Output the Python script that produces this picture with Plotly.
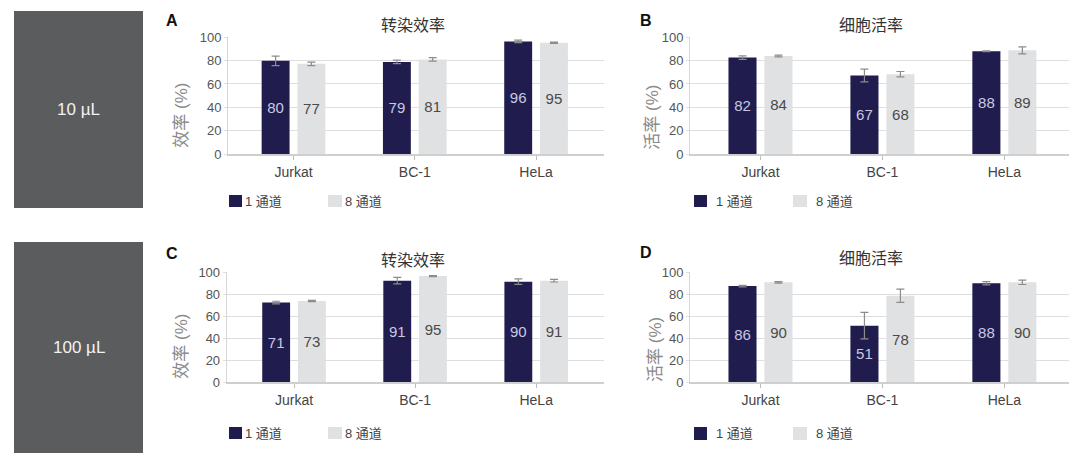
import plotly.graph_objects as go

W, H = 1080, 457

cells = ["Jurkat", "BC-1", "HeLa"]
series_names = ["1 通道", "8 通道"]

# Panel A: 转染效率 (10 µL)
a_1ch = [79.8, 78.9, 96.5]
a_8ch = [77.3, 81.0, 95.3]
a_1ch_err = [4.0, 1.5, 1.0]
a_8ch_err = [1.5, 1.5, 0.5]
a_1ch_lbl = [80, 79, 96]
a_8ch_lbl = [77, 81, 95]

# Panel B: 细胞活率 (10 µL)
b_1ch = [82.6, 67.3, 88.0]
b_8ch = [84.0, 68.4, 88.8]
b_1ch_err = [1.5, 5.5, 0.4]
b_8ch_err = [0.7, 2.3, 3.0]
b_1ch_lbl = [82, 67, 88]
b_8ch_lbl = [84, 68, 89]

# Panel C: 转染效率 (100 µL)
c_1ch = [72.5, 92.4, 91.5]
c_8ch = [73.9, 96.6, 92.4]
c_1ch_err = [1.2, 3.0, 2.5]
c_8ch_err = [0.5, 0.5, 1.2]
c_1ch_lbl = [71, 91, 90]
c_8ch_lbl = [73, 95, 91]

# Panel D: 细胞活率 (100 µL)
d_1ch = [87.5, 51.5, 90.0]
d_8ch = [90.9, 78.7, 90.9]
d_1ch_err = [0.7, 12.0, 1.5]
d_8ch_err = [0.7, 6.0, 2.0]
d_1ch_lbl = [86, 51, 88]
d_8ch_lbl = [90, 78, 90]

y_ticks = [0, 20, 40, 60, 80, 100]

DARK = "#201d4e"
LIGHT = "#e0e1e3"
FONT = "Liberation Sans, Arial, Noto Sans CJK SC, sans-serif"


def px(x):
    return x / W


def py(y):
    return 1 - y / H


fig = go.Figure()

panels = [
    # (suffix, d1, d2, e1, e2, l1, l2, xdom(px), ydom(px), xrange)
    ("", a_1ch, a_8ch, a_1ch_err, a_8ch_err, a_1ch_lbl, a_8ch_lbl, (228, 604), (37.3, 154), (-0.54, 2.56)),
    ("2", b_1ch, b_8ch, b_1ch_err, b_8ch_err, b_1ch_lbl, b_8ch_lbl, (690, 1069), (37.3, 154), (-0.578, 2.53)),
    ("3", c_1ch, c_8ch, c_1ch_err, c_8ch_err, c_1ch_lbl, c_8ch_lbl, (226.7, 604), (272.3, 382.3), (-0.556, 2.56)),
    ("4", d_1ch, d_8ch, d_1ch_err, d_8ch_err, d_1ch_lbl, d_8ch_lbl, (690, 1069), (272.3, 382.3), (-0.578, 2.53)),
]

for suf, v1, v2, e1, e2, l1, l2, xd, yd, xr in panels:
    xa = "x" + suf
    ya = "y" + suf
    fig.add_trace(go.Bar(
        x=cells, y=v1, name=series_names[0], xaxis=xa, yaxis=ya,
        marker=dict(color=DARK, line=dict(width=0)),
        error_y=dict(type="data", array=e1, color="#8c8c8c", thickness=1.2, width=4),
        text=[str(t) for t in l1], textposition="inside", insidetextanchor="middle",
        textangle=0, constraintext="none",
        insidetextfont=dict(color="#c9c8e2", size=15, family=FONT),
        showlegend=False,
    ))
    fig.add_trace(go.Bar(
        x=cells, y=v2, name=series_names[1], xaxis=xa, yaxis=ya,
        marker=dict(color=LIGHT, line=dict(width=0)),
        error_y=dict(type="data", array=e2, color="#8c8c8c", thickness=1.2, width=4),
        text=[str(t) for t in l2], textposition="inside", insidetextanchor="middle",
        textangle=0, constraintext="none",
        insidetextfont=dict(color="#4a4a4a", size=15, family=FONT),
        showlegend=False,
    ))
    xkey = "xaxis" + suf
    ykey = "yaxis" + suf
    fig.layout[xkey] = dict(
        domain=[px(xd[0]), px(xd[1])], anchor=ya, range=list(xr),
        type="category", showline=True, linecolor="#cfcfcf", linewidth=1.5,
        ticks="outside", ticklen=4, tickcolor="#bdbdbd", showgrid=False,
        tickfont=dict(size=14, color="#444", family=FONT), zeroline=False,
        automargin=False,
    )
    fig.layout[ykey] = dict(
        domain=[py(yd[1]), py(yd[0])], anchor=xa, range=[0, 100],
        tickvals=y_ticks, showgrid=True, gridcolor="#dedede", gridwidth=1.4,
        showline=True, linecolor="#d6d6d6", linewidth=1,
        ticks="outside", ticklen=3, tickcolor="#dedede",
        tickfont=dict(size=13, color="#555", family=FONT), zeroline=False,
        automargin=False,
    )

shapes = []
annotations = []

# left gray boxes
for (y0, y1, label) in [(11, 208, "10 µL"), (242, 453, "100 µL")]:
    shapes.append(dict(type="rect", xref="paper", yref="paper",
                       x0=px(14), x1=px(143), y0=py(y1), y1=py(y0),
                       fillcolor="#5b5c5e", line=dict(width=0), layer="below"))
    annotations.append(dict(text=label, xref="paper", yref="paper",
                            x=px(78.5), y=py((y0 + y1) / 2), showarrow=False,
                            xanchor="center", yanchor="middle",
                            font=dict(size=17, color="#f2f2f2", family=FONT)))

# panel titles / letters / y labels
titles = [
    ("A", 164, 20, "转染效率", 413, 25.7, "效率 (%)", 181.7, 115),
    ("B", 638, 20, "细胞活率", 870.5, 25.7, "活率 (%)", 651.7, 117),
    ("C", 164, 253.3, "转染效率", 413, 260, "效率 (%)", 180.7, 346),
    ("D", 638, 252.7, "细胞活率", 870.5, 258.3, "活率 (%)", 655, 350),
]
for letter, lx, ly, title, tx, ty, ylab, yx, yy in titles:
    annotations.append(dict(text="<b>" + letter + "</b>", xref="paper", yref="paper",
                            x=px(lx), y=py(ly), xanchor="left", yanchor="middle",
                            showarrow=False, font=dict(size=16, color="#111", family=FONT)))
    annotations.append(dict(text=title, xref="paper", yref="paper",
                            x=px(tx), y=py(ty), xanchor="center", yanchor="middle",
                            showarrow=False, font=dict(size=16, color="#333", family=FONT)))
    annotations.append(dict(text=ylab, xref="paper", yref="paper", textangle=-90,
                            x=px(yx), y=py(yy), xanchor="center", yanchor="middle",
                            showarrow=False, font=dict(size=17, color="#8a8a8a", family=FONT)))

# manual legends
legends = [
    ((229, 242, 243), (328, 342, 343), 195, 207),
    ((694, 707, 714), (793, 807, 814), 195, 207),
    ((229, 242, 243), (328, 342, 343), 427, 439),
    ((694, 707, 714), (793, 807, 814), 427, 440),
]
for (d0, d1, dt), (l0, l1, lt), y0, y1 in legends:
    for (x0, x1, xt), col, name in [((d0, d1, dt), DARK, series_names[0]),
                                     ((l0, l1, lt), LIGHT, series_names[1])]:
        shapes.append(dict(type="rect", xref="paper", yref="paper",
                           x0=px(x0), x1=px(x1), y0=py(y1), y1=py(y0),
                           fillcolor=col, line=dict(width=0)))
        annotations.append(dict(text=name, xref="paper", yref="paper",
                                x=px(xt), y=py((y0 + y1) / 2), xanchor="left",
                                yanchor="middle", showarrow=False,
                                font=dict(size=13, color="#444", family=FONT)))

fig.update_layout(
    width=W, height=H, margin=dict(l=0, r=0, t=0, b=0, pad=0, autoexpand=False),
    paper_bgcolor="white", plot_bgcolor="white",
    barmode="group", bargap=0.41, bargroupgap=0.22,
    showlegend=False, shapes=shapes, annotations=annotations,
    font=dict(family=FONT),
)

fig.write_html("out.html")
